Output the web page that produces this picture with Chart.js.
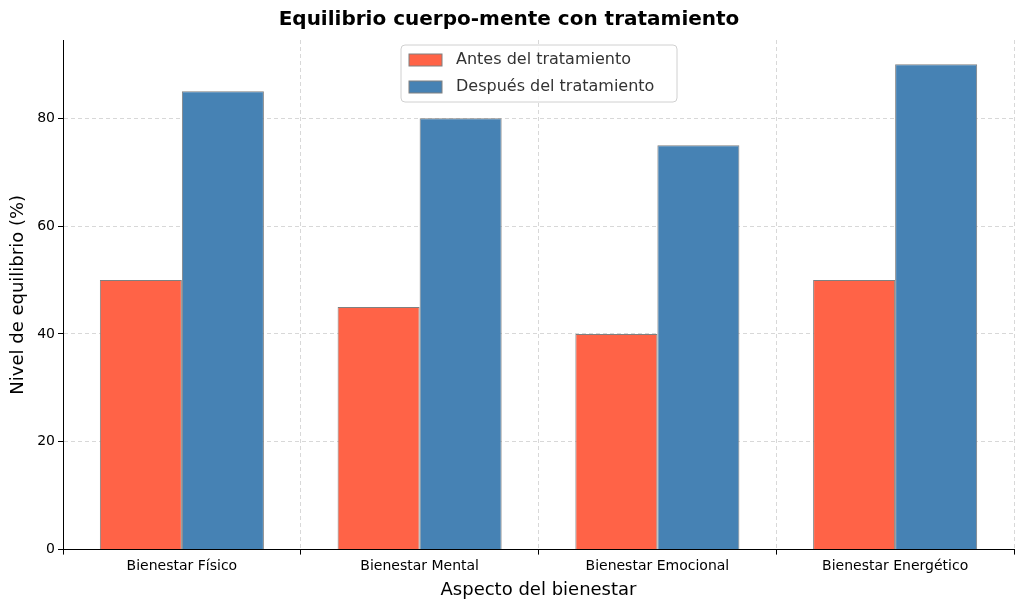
<!DOCTYPE html>
<html lang="es">
<head>
<meta charset="UTF-8">
<title>Equilibrio cuerpo-mente</title>
<script src="https://cdn.jsdelivr.net/npm/chart.js"></script>
<style>
  body { margin: 0; background: #fff; }
  #wrap { width: 1024px; height: 611px; }
</style>
</head>
<body>
<div id="wrap"><canvas id="chart"></canvas></div>
<script>
const categories = ['Bienestar Físico', 'Bienestar Mental', 'Bienestar Emocional', 'Bienestar Energético'];
const antes = [50, 45, 40, 50];
const despues = [85, 80, 75, 90];
const seriesNames = ['Antes del tratamiento', 'Después del tratamiento'];
const seriesColors = ['#FF6347', '#4682B4'];
const font = "'DejaVu Sans', sans-serif";

// legend box drawn inside the plot, top centre
const innerLegend = {
  id: 'innerLegend',
  afterDraw(chart) {
    const ctx = chart.ctx;
    const x = 401, y = 45, w = 276, h = 57;
    ctx.save();
    ctx.fillStyle = 'rgba(255,255,255,0.85)';
    ctx.strokeStyle = '#d0d0d0';
    ctx.lineWidth = 1;
    ctx.beginPath();
    ctx.roundRect(x, y, w, h, 4);
    ctx.fill();
    ctx.stroke();
    ctx.font = '16px ' + font;
    ctx.textBaseline = 'middle';
    seriesNames.forEach((name, i) => {
      const ry = y + 15 + i * 27;
      ctx.fillStyle = seriesColors[i];
      ctx.fillRect(x + 8, ry - 6, 33, 12);
      ctx.strokeStyle = '#808080';
      ctx.strokeRect(x + 8, ry - 6, 33, 12);
      ctx.fillStyle = '#333';
      ctx.fillText(name, x + 55, ry);
    });
    ctx.restore();
  }
};

new Chart(document.getElementById('chart'), {
  type: 'bar',
  data: {
    labels: categories,
    datasets: [
      { label: seriesNames[0], data: antes, backgroundColor: seriesColors[0], borderColor: '#808080', borderWidth: 1 },
      { label: seriesNames[1], data: despues, backgroundColor: seriesColors[1], borderColor: '#808080', borderWidth: 1 }
    ]
  },
  options: {
    responsive: true,
    maintainAspectRatio: false,
    animation: false,
    layout: { padding: { left: 4, right: 10, top: 4, bottom: 6 } },
    categoryPercentage: 0.69,
    barPercentage: 1.0,
    plugins: {
      legend: { display: false },
      tooltip: { enabled: false },
      title: {
        display: true,
        text: 'Equilibrio cuerpo-mente con tratamiento',
        color: '#000',
        font: { family: font, size: 20, weight: 'bold' },
        padding: { top: 4, bottom: 8 }
      }
    },
    scales: {
      x: {
        grid: { color: '#d8d8d8', borderDash: [4, 3], tickLength: 5, tickColor: '#000' },
        border: { color: '#000', dash: [4, 3] },
        ticks: { color: '#000', font: { family: font, size: 14 } },
        title: { display: true, text: 'Aspecto del bienestar', color: '#000', font: { family: font, size: 18 }, padding: { top: 2 } }
      },
      y: {
        min: 0,
        max: 94.5,
        afterFit(scale) { scale.width = 59; },
        afterBuildTicks(scale) { scale.ticks = [0, 20, 40, 60, 80].map(v => ({ value: v })); },
        grid: { color: '#d8d8d8', tickLength: 5, tickColor: '#000' },
        border: { color: '#000', dash: [4, 3] },
        ticks: { color: '#000', font: { family: font, size: 14 } },
        title: { display: true, text: 'Nivel de equilibrio (%)', color: '#000', font: { family: font, size: 18 } }
      }
    }
  },
  plugins: [innerLegend, {
    id: 'dashGrid',
    beforeDraw(chart) {
      chart.options.scales.x.grid.borderDash = [4, 3];
    }
  }]
});
</script>
</body>
</html>
